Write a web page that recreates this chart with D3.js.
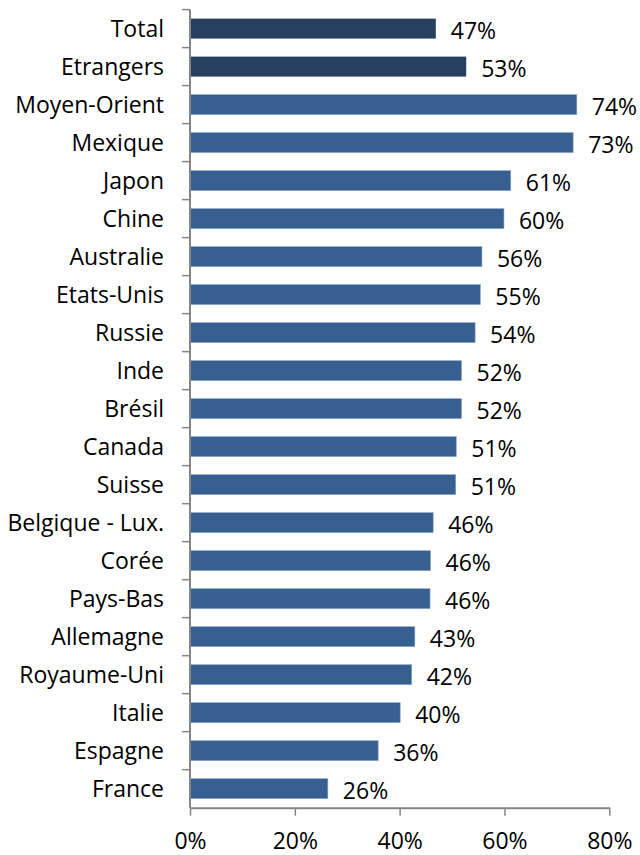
<!DOCTYPE html>
<html>
<head>
<meta charset="utf-8">
<script src="https://cdn.jsdelivr.net/npm/d3@7"></script>
<style>
  html, body { margin: 0; padding: 0; background: #fff; }
  svg { display: block; }
  text { font-family: "Open Sans", Lato, sans-serif; fill: #000; }
</style>
</head>
<body>
<svg id="chart" width="640" height="855"></svg>
<script>
const categories = ["Total","Etrangers","Moyen-Orient","Mexique","Japon","Chine","Australie","Etats-Unis","Russie","Inde","Brésil","Canada","Suisse","Belgique - Lux.","Corée","Pays-Bas","Allemagne","Royaume-Uni","Italie","Espagne","France"];
const values = [0.469,0.527,0.738,0.731,0.612,0.599,0.557,0.554,0.544,0.518,0.518,0.508,0.507,0.464,0.459,0.458,0.429,0.423,0.401,0.359,0.263];
const xTicks = [0,0.2,0.4,0.6,0.8];
const summaryRows = ["Total","Etrangers"];

const svg = d3.select("#chart");
const fontSize = 23;
const fontFamily = "'Open Sans', Lato, sans-serif";
const axisColor = "#868686";

const x = d3.scaleLinear().domain([0, 0.8]).range([190, 609.3]);
const pad = 0.474;
const y = d3.scaleBand().domain(categories).range([9.6, 807.7]).paddingInner(pad).paddingOuter(pad/2);

// bars
svg.append("g").selectAll("rect").data(categories).join("rect")
  .attr("x", x(0))
  .attr("y", d => y(d))
  .attr("width", (d,i) => x(values[i]) - x(0))
  .attr("height", y.bandwidth())
  .attr("fill", d => summaryRows.includes(d) ? "#27405f" : "#376090")
  .attr("stroke", d => summaryRows.includes(d) ? "none" : "#8aa6c8")
  .attr("stroke-width", 0.6);

// value labels
svg.append("g").selectAll("text").data(categories).join("text")
  .attr("x", (d,i) => x(values[i]) + 15)
  .attr("y", d => y(d) + y.bandwidth()/2 + 10.5)
  .attr("font-size", fontSize)
  .text((d,i) => Math.round(values[i]*100) + "%");

// category labels
svg.append("g").selectAll("text").data(categories).join("text")
  .attr("x", 164)
  .attr("y", d => y(d) + y.bandwidth()/2 + 8.5)
  .attr("text-anchor", "end")
  .attr("font-size", fontSize)
  .text(d => d);

// y axis line and boundary ticks
const step = y.step();
const boundaries = categories.map(d => y(d) - step*pad/2);
const yAxisG = svg.append("g");
yAxisG.selectAll("line.tick").data(boundaries).join("line")
  .attr("class","tick")
  .attr("x1", 182).attr("x2", 190)
  .attr("y1", d => d).attr("y2", d => d)
  .attr("stroke", axisColor).attr("stroke-width", 1.5);
yAxisG.append("line")
  .attr("x1", 190).attr("x2", 190)
  .attr("y1", y.range()[0]).attr("y2", y.range()[1])
  .attr("stroke", axisColor).attr("stroke-width", 2);

// x axis
const xAxis = d3.axisBottom(x).tickValues(xTicks).tickFormat(d3.format(".0%")).tickSize(8).tickSizeOuter(0).tickPadding(17);
const xg = svg.append("g").attr("transform", `translate(0,${y.range()[1]})`).call(xAxis);
xg.select(".domain").attr("stroke", axisColor).attr("stroke-width", 2);
xg.selectAll(".tick line").attr("stroke", axisColor).attr("stroke-width", 1.5);
xg.selectAll(".tick text").attr("font-size", fontSize).attr("font-family", fontFamily).attr("fill", "#000");
</script>
</body>
</html>
